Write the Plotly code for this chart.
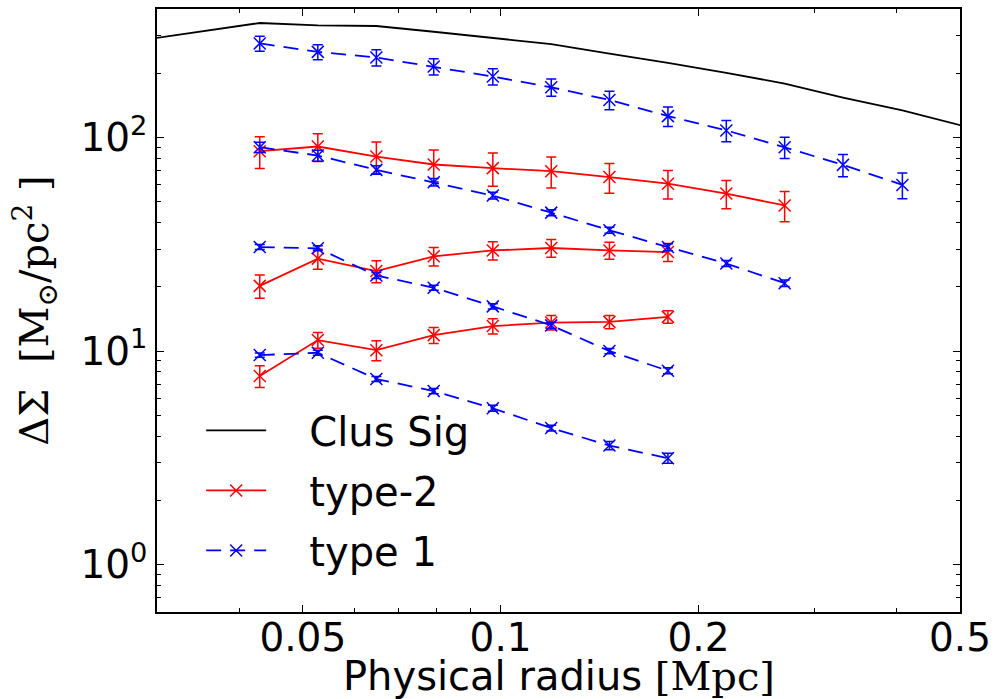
import plotly.graph_objects as go
import math

# ---------------- data ----------------
radius = [0.0430, 0.0527, 0.0647, 0.0791, 0.0973, 0.1194,
          0.1464, 0.1797, 0.2205, 0.2705, 0.3318, 0.4086]

clus_r = [0.0284, 0.0349] + radius + [0.5016]
clus_sig = [286, 314, 344, 335, 333, 313, 293, 274, 247, 224, 201, 179, 154, 134, 114]

# type-2 (red, solid)
t2_a = [86.3, 90.8, 81.5, 74.8, 71.9, 69.6, 65.3, 60.8, 54.7, 48.1]
t2_a_err = [14.7, 13.5, 13.8, 12.7, 12.8, 11.5, 10.4, 9.3, 8.3, 7.8]
t2_b = [20.2, 27.1, 23.7, 27.8, 29.6, 30.4, 29.6, 29.1]
t2_b_err = [2.5, 2.9, 2.8, 2.8, 2.9, 2.9, 2.7, 2.8]
t2_c = [7.64, 11.26, 10.1, 11.88, 13.1, 13.6, 13.7, 14.46]
t2_c_err = [0.89, 0.95, 1.09, 1.03, 1.09, 1.06, 0.99, 0.97]

# type 1 (blue, dashed)
t1_a = [276, 252, 237, 215, 193, 172, 150, 126, 108, 90, 74.5, 60]
t1_a_err = [22.2, 20.3, 20.5, 18.8, 16.9, 15.9, 14.9, 13.2, 12.3, 10.2, 8.9, 8.3]
t1_b = [90.1, 82.4, 70.6, 61.8, 53.5, 44.5, 36.8, 30.7, 25.7, 20.8]
t1_b_err = [4.9, 4.9, 3.2, 2.5, 2.0, 1.44, 1.19, 1.16, 0.83, 0.74]
t1_c = [30.7, 30.3, 22.6, 19.8, 16.2, 13.2, 10.0, 8.09]
t1_c_err = [0.83, 0.82, 0.73, 0.53, 0.44, 0.43, 0.27, 0.26]
t1_d = [9.58, 9.82, 7.4, 6.5, 5.4, 4.36, 3.61, 3.15]
t1_d_err = [0.21, 0.27, 0.20, 0.18, 0.17, 0.14, 0.16, 0.17]

x_ticks = [0.05, 0.1, 0.2, 0.5]
x_ticktext = ["0.05", "0.1", "0.2", "0.5"]
y_ticks = [1, 10, 100]
y_ticktext = ["10<sup>0</sup>", "10<sup>1</sup>", "10<sup>2</sup>"]
x_range = [0.03, 0.5]
y_range = [0.6, 400]

# ---------------- figure ----------------
fig = go.Figure()

NB = "\u00a0\u00a0\u00a0"

fig.add_trace(go.Scatter(
    x=clus_r, y=clus_sig, mode="lines", name=NB + "Clus Sig",
    line=dict(color="black", width=1.8), legendgroup="g1", legendrank=1))

RED = "#ff0000"
BLUE = "#0000ff"

def add_series(y, err, color, dash, name, show, group, rank):
    n = len(y)
    fig.add_trace(go.Scatter(
        x=radius[:n], y=y, mode="lines+markers", name=NB + name,
        showlegend=show, legendgroup=group, legendrank=rank,
        line=dict(color=color, width=1.8, dash=dash),
        marker=dict(symbol="x-thin", size=12, line=dict(color=color, width=1.5)),
        error_y=dict(type="data", array=err, visible=True, color=color,
                     thickness=1.5, width=5)))

for i, (y, e) in enumerate([(t2_a, t2_a_err), (t2_b, t2_b_err), (t2_c, t2_c_err)]):
    add_series(y, e, RED, "solid", "type-2", i == 0, "g2", 2)
for i, (y, e) in enumerate([(t1_a, t1_a_err), (t1_b, t1_b_err), (t1_c, t1_c_err), (t1_d, t1_d_err)]):
    add_series(y, e, BLUE, "15px,9px", "type 1", i == 0, "g3", 3)

x_minor = [0.03, 0.04, 0.06, 0.07, 0.08, 0.09, 0.3, 0.4]
y_minor = [m * 10 ** k for k in (-1, 0, 1, 2) for m in range(2, 10)]
y_minor = [v for v in y_minor if 0.6 <= v <= 400]

axis_common = dict(
    type="log", showgrid=False, zeroline=False,
    showline=True, linecolor="black", linewidth=1.5, mirror="ticks",
    ticks="inside", ticklen=7, tickwidth=1.2, tickcolor="black",
    tickfont=dict(family="DejaVu Sans", size=39, color="black"),
)

fig.update_xaxes(**axis_common,
                 range=[math.log10(x_range[0]), math.log10(x_range[1])],
                 tickmode="array", tickvals=x_ticks, ticktext=x_ticktext,
                 ticklabelstandoff=-10,
                 minor=dict(tickvals=x_minor, ticks="inside", ticklen=4,
                            tickcolor="black", tickwidth=1, showgrid=False))
fig.update_yaxes(**axis_common,
                 range=[math.log10(y_range[0]), math.log10(y_range[1])],
                 tickmode="array", tickvals=y_ticks, ticktext=y_ticktext,
                 minor=dict(tickvals=y_minor, ticks="inside", ticklen=4,
                            tickcolor="black", tickwidth=1, showgrid=False))

fig.update_layout(
    width=998, height=699,
    margin=dict(l=157, r=38, t=7, b=87),
    plot_bgcolor="white", paper_bgcolor="white",
    font=dict(family="DejaVu Sans", size=39, color="black"),
    legend=dict(x=0.055, y=0.355, xanchor="left", yanchor="top",
                bgcolor="rgba(0,0,0,0)", itemwidth=60, tracegroupgap=5,
                font=dict(family="DejaVu Sans", size=40, color="black")),
    annotations=[
        dict(text="Physical radius <span style='font-family:DejaVu Serif'>[Mpc]</span>",
             xref="paper", yref="paper", x=0.5, y=-0.106,
             xanchor="center", yanchor="middle", showarrow=False,
             font=dict(family="DejaVu Sans", size=40, color="black")),
        dict(text="ΔΣ  [M<sub>⊙</sub>/pc<sup>2</sup> ]",
             xref="paper", yref="paper", x=-0.153, y=0.5,
             xanchor="center", yanchor="middle", textangle=-90, showarrow=False,
             font=dict(family="DejaVu Serif", size=40, color="black")),
    ],
)

fig.write_html("out.html")
